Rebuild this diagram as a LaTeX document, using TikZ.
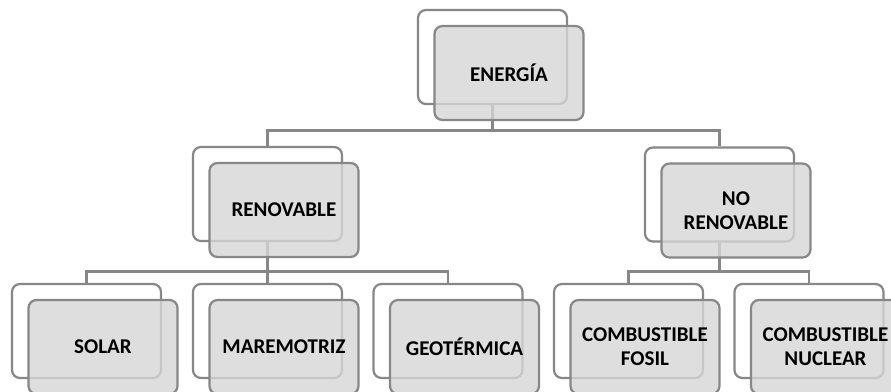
\documentclass[tikz,border=0pt]{standalone}
\usepackage{fontspec}
\setmainfont{Carlito}
\usetikzlibrary{calc}
\definecolor{edgegrey}{HTML}{878787}
\definecolor{boxfill}{HTML}{D6D6D6}
\tikzset{
  backbox/.style={draw=edgegrey, line width=2.2pt, fill=white, rounded corners=8pt,
    minimum width=149pt, minimum height=94pt, inner sep=0pt},
  frontbox/.style={draw=edgegrey, line width=2.2pt, fill=boxfill, fill opacity=0.8, text opacity=1,
    rounded corners=8pt, minimum width=149pt, minimum height=94pt, inner sep=0pt,
    align=center, font=\fontsize{21}{24}\selectfont\bfseries},
  conn/.style={draw=edgegrey, line width=2.2pt}
}
\newcommand\backnode[3]{\node[backbox] (#1) at (#2,#3) {};}
\newcommand\frontnode[2]{\node[frontbox] (#1f) at ($(#1)+(16.5,16)$) {#2};}
\begin{document}
\begin{tikzpicture}[x=1pt,y=-1pt]
\clip (0,0) rectangle (891,391);
\fill[white] (0,0) rectangle (891,391);
% back boxes
\backnode{e}{492.5}{57}
\backnode{r}{267.5}{194}
\backnode{nr}{719.5}{194.5}
\backnode{s}{86.5}{331}
\backnode{m}{267.5}{331}
\backnode{g}{448}{331}
\backnode{cf}{628.5}{331}
\backnode{cn}{809}{331}
% connectors
\draw[conn] (e.south) -- (e.south |- 0,130.5) coordinate (bar1);
\draw[conn] (r.north) |- (bar1) -| (nr.north);
\draw[conn] (r.south) -- (r.south |- 0,271.5) coordinate (bar2);
\draw[conn] (s.north) |- (bar2) -| (g.north);
\draw[conn] (bar2) -- (m.north);
\draw[conn] (nr.south) -- (nr.south |- 0,271.5) coordinate (bar3);
\draw[conn] (cf.north) |- (bar3) -| (cn.north);
% front boxes
\frontnode{e}{ENERGÍA}
\frontnode{r}{RENOVABLE}
\frontnode{nr}{NO\\RENOVABLE}
\frontnode{s}{SOLAR}
\frontnode{m}{MAREMOTRIZ}
\frontnode{g}{GEOTÉRMICA}
\frontnode{cf}{COMBUSTIBLE\\FOSIL}
\frontnode{cn}{COMBUSTIBLE\\NUCLEAR}
\end{tikzpicture}
\end{document}
